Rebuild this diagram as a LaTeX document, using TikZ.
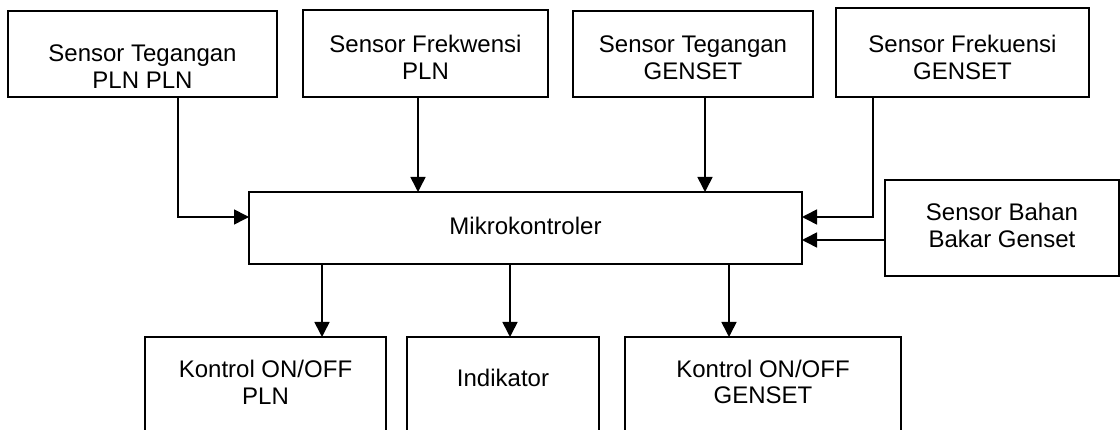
\documentclass[tikz,border=0pt]{standalone}
\usepackage{fontspec}
\setmainfont{Liberation Sans}
\usepackage{tikz}
\usetikzlibrary{arrows.meta}

\tikzset{
  blok/.style={draw, line width=1.6pt, anchor=north west, inner sep=0pt, outer sep=0pt, align=center, font=\fontsize{24}{27}\selectfont},
  panah/.style={-{Triangle[length=15pt, width=15pt]}, line width=1.6pt}
}

\begin{document}
\begin{tikzpicture}[x=1pt, y=-1pt]
\useasboundingbox (0, 0) rectangle (1120, 430);
% sensor di baris atas
\node [blok, minimum width=269pt, minimum height=86pt, text height=78pt, text depth=8pt] (tegPLN) at (8, 11) {Sensor Tegangan\\PLN PLN};
\node [blok, minimum width=245pt, minimum height=87pt, text height=70pt, text depth=17pt] (frekPLN) at (303, 10) {Sensor Frekwensi\\PLN};
\node [blok, minimum width=240pt, minimum height=86pt, text height=69pt, text depth=17pt] (tegGEN) at (573, 11) {Sensor Tegangan\\GENSET};
\node [blok, minimum width=253pt, minimum height=89pt, text height=72pt, text depth=17pt] (frekGEN) at (836, 8) {Sensor Frekuensi\\GENSET};
% mikrokontroler dan sensor bahan bakar
\node [blok, minimum width=553pt, minimum height=72pt, text height=43pt, text depth=29pt] (mikro) at (249, 192) {Mikrokontroler};
\node [blok, minimum width=234pt, minimum height=96pt, text height=68pt, text depth=28pt] (bahan) at (885, 180) {Sensor Bahan\\Bakar Genset};
% keluaran
\node [blok, minimum width=241pt, minimum height=103pt, text height=68pt, text depth=35pt] (kPLN) at (145, 337) {Kontrol ON/OFF\\PLN};
\node [blok, minimum width=192pt, minimum height=103pt, text height=50pt, text depth=53pt] (indikator) at (407, 337) {Indikator};
\node [blok, minimum width=276pt, minimum height=103pt, text height=67pt, text depth=36pt] (kGEN) at (625, 337) {Kontrol ON/OFF\\GENSET};

\draw [panah] ([xshift=35.5pt]tegPLN.south) |- ([yshift=11pt]mikro.west);
\draw [panah] ([xshift=-7.5pt]frekPLN.south) -- ([xshift=-107.5pt]mikro.north);
\draw [panah] ([xshift=12pt]tegGEN.south) -- ([xshift=179.5pt]mikro.north);
\draw [panah] ([xshift=-89.5pt]frekGEN.south) |- ([yshift=11pt]mikro.east);
\draw [panah] ([yshift=-12pt]bahan.west) -- ([yshift=-12pt]mikro.east);
\foreach \a/\b/\n in {-203.5/56.5/kPLN, -15.5/7/indikator, 203.5/-34/kGEN}
  \draw [panah] ([xshift=\a pt]mikro.south) -- ([xshift=\b pt]\n.north);
\end{tikzpicture}
\end{document}
